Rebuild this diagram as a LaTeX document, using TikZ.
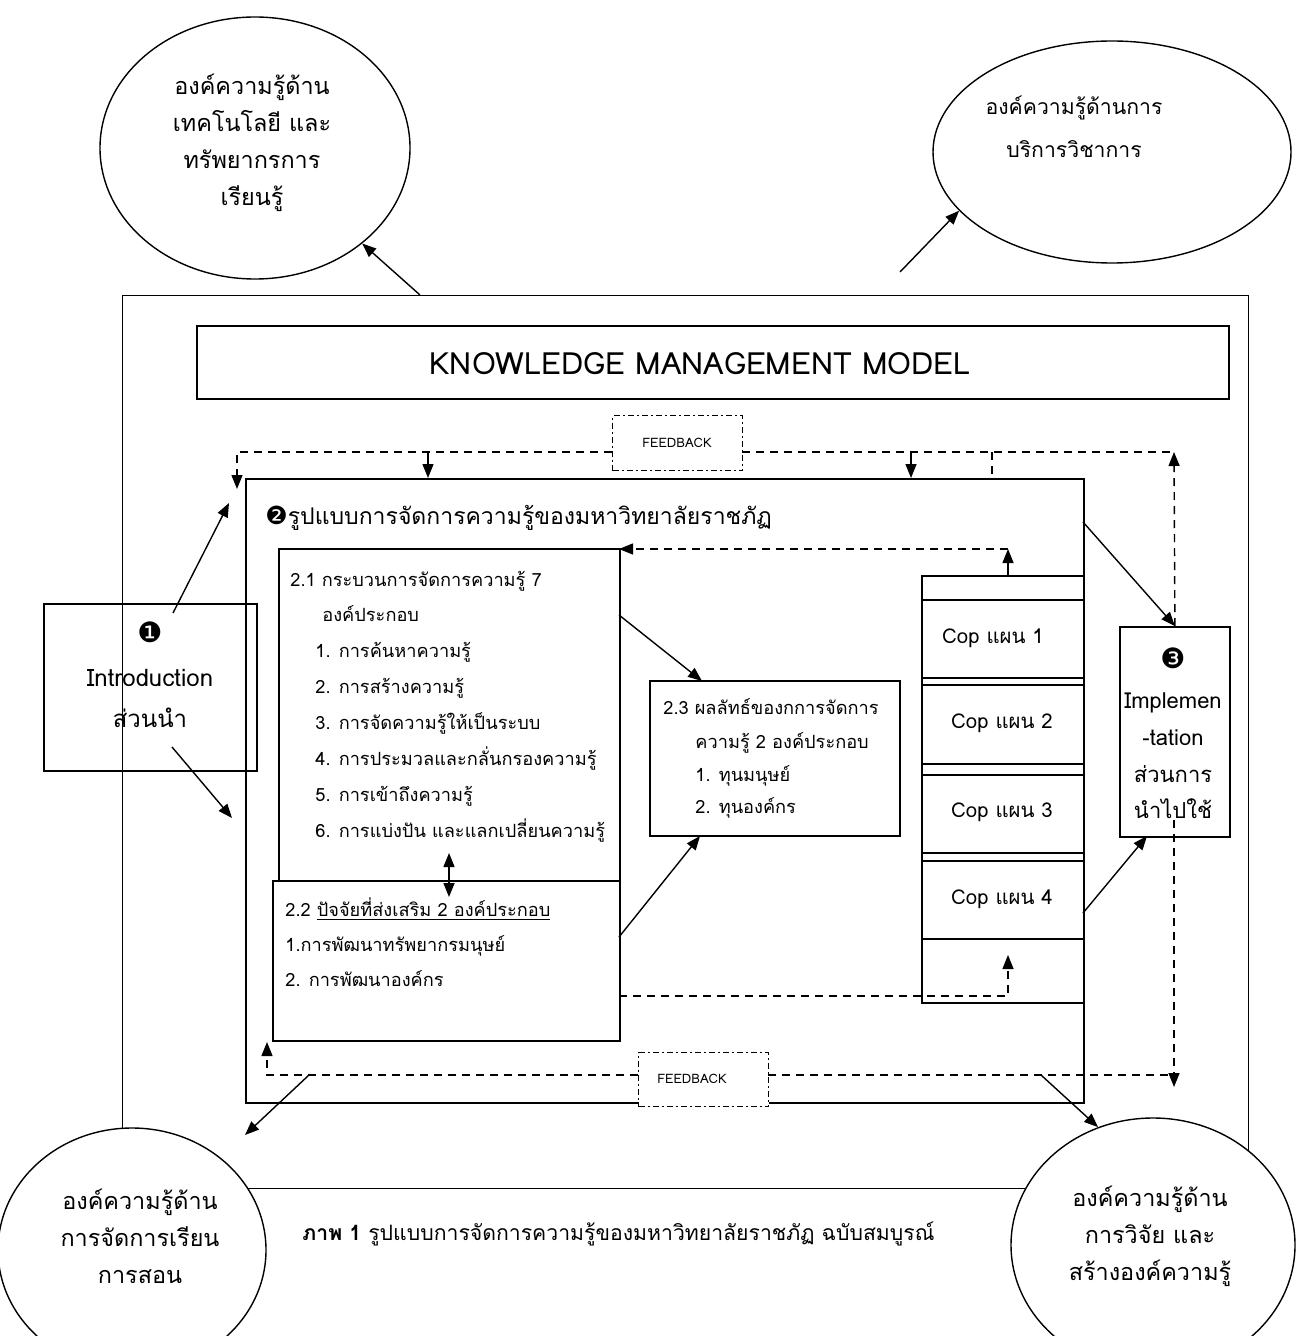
\documentclass[tikz,border=0pt]{standalone}
\usepackage{fontspec}
\setmainfont[Script=Thai]{Loma}
\newfontfamily\dingfont{DejaVu Sans}
\usetikzlibrary{arrows.meta,shapes.geometric,calc}
\newcommand{\fsz}[2]{\fontsize{#1}{#2}\selectfont}
\begin{document}
\begin{tikzpicture}[x=0.5pt,y=-0.5pt,
  bx/.style={draw,line width=0.9pt,rectangle,inner sep=0pt,anchor=north west},
  ell/.style={draw,line width=0.7pt,ellipse,inner sep=0pt,fill=white},
  fb/.style={draw,line width=0.6pt,rectangle,inner sep=0pt,anchor=north west,fill=white,
     dash pattern=on 3pt off 1.5pt on 1pt off 1.5pt},
  arr/.style={line width=0.7pt,-{Triangle[length=7pt,width=5.5pt]}},
  darr/.style={line width=0.7pt,{Triangle[length=7pt,width=5.5pt]}-{Triangle[length=7pt,width=5.5pt]}},
  dsh/.style={line width=0.7pt,dash pattern=on 4pt off 3pt},
  txt/.style={inner sep=0pt,anchor=base west,font=\fsz{9.1}{12}},
  big/.style={inner sep=0pt,align=center,font=\fsz{11.7}{18.5}},
  coptxt/.style={inner sep=0pt,font=\fsz{10.2}{12}},
]
\useasboundingbox (0,0) rectangle (1295,1336);
\fill[white] (0,0) rectangle (1295,1336);

% outer frame
\node[bx,line width=0.6pt,minimum width=563pt,minimum height=446.5pt] (outer) at (122,295) {};

% ellipses
\node[ell,minimum width=155pt,minimum height=131pt] (e1) at (255,148) {};
\node[big] (e1t) at (252,143) {องค์ความรู้ด้าน\\เทคโนโลยี และ\\ทรัพยากรการ\\เรียนรู้};
\node[ell,minimum width=179pt,minimum height=111pt] (e2) at (1112,152) {};
\node[big,font=\fsz{10.6}{21.5}] (e2t) at (1074,127) {องค์ความรู้ด้านการ\\บริการวิชาการ};
\node[ell,minimum width=134pt,minimum height=122pt] (e3) at (132,1250) {};
\node[big] (e3t) at (140,1236) {องค์ความรู้ด้าน\\การจัดการเรียน\\การสอน};
\node[ell,minimum width=142pt,minimum height=127pt] (e4) at (1153,1245) {};
\node[big] (e4t) at (1150,1236) {องค์ความรู้ด้าน\\การวิจัย และ\\สร้างองค์ความรู้};

% title box
\node[bx,minimum width=516pt,minimum height=36.5pt] (kmm) at (196,325) {};
\node[inner sep=0pt,font=\fsz{15.3}{20}] (kmmt) at (700,364) {KNOWLEDGE MANAGEMENT MODEL};

% main box
\node[bx,minimum width=419pt,minimum height=312pt] (main) at (245,478) {};
\node[inner sep=0pt,anchor=base west,font=\fsz{11.5}{15}] (title) at (265,524) {{\dingfont\fsz{12.5}{15}❷}รูปแบบการจัดการความรู้ของมหาวิทยาลัยราชภัฏ};

% feedback boxes
\node[fb,minimum width=65pt,minimum height=27.5pt] (fbtop) at (612,415) {};
\node[inner sep=0pt,font=\fsz{6.5}{8}] (fbtopt) at (677,443) {FEEDBACK};

% box 2.1
\node[bx,minimum width=170.5pt,minimum height=166pt] (b21) at (278,548) {};
\node[txt] (l1) at (290,586) {2.1 กระบวนการจัดการความรู้ 7};
\node[txt] (l2) at (322,621) {องค์ประกอบ};
\node[txt] (l3) at (315,657) {1. การค้นหาความรู้};
\node[txt] (l4) at (315,693) {2. การสร้างความรู้};
\node[txt] (l5) at (315,729) {3. การจัดความรู้ให้เป็นระบบ};
\node[txt] (l6) at (315,765) {4. การประมวลและกลั่นกรองความรู้};
\node[txt] (l7) at (315,801) {5. การเข้าถึงความรู้};
\node[txt] (l8) at (315,837) {6. การแบ่งปัน และแลกเปลี่ยนความรู้};

% box 2.2
\node[bx,minimum width=173.5pt,minimum height=80pt] (b22) at (272,880) {};
\node[txt] (m1) at (285,916) {2.2 \underline{ปัจจัยที่ส่งเสริม 2 องค์ประกอบ}};
\node[txt] (m2) at (285,951) {1.การพัฒนาทรัพยากรมนุษย์};
\node[txt] (m3) at (285,986) {2. การพัฒนาองค์กร};

% box 2.3
\node[bx,minimum width=125pt,minimum height=77.5pt] (b23) at (649,680) {};
\node[txt] (n1) at (663,714) {2.3 ผลลัทธ์ของกการจัดการ};
\node[txt] (n2) at (695,748) {ความรู้ 2 องค์ประกอบ};
\node[txt] (n3) at (695,781) {1. ทุนมนุษย์};
\node[txt] (n4) at (695,813) {2. ทุนองค์กร};

% cop stack
\node[bx,minimum width=81pt,minimum height=213.5pt] (stack) at (921,575) {};
\node[bx,minimum width=81pt,minimum height=39pt] (cop1) at (921,599) {};
\node[bx,minimum width=81pt,minimum height=39.5pt] (cop2) at (921,684) {};
\node[bx,minimum width=81pt,minimum height=39pt] (cop3) at (921,774) {};
\node[bx,minimum width=81pt,minimum height=39pt] (cop4) at (921,860) {};
\node[coptxt] (c1t) at (993,638) {Cop แผน 1};
\node[coptxt] (c2t) at (1002,723) {Cop แผน 2};
\node[coptxt] (c3t) at (1002,812) {Cop แผน 3};
\node[coptxt] (c4t) at (1002,899) {Cop แผน 4};

% intro box
\node[bx,minimum width=106.5pt,minimum height=83.5pt] (intro) at (43,603) {};
\node[inner sep=0pt,font=\dingfont\fsz{14}{15}] (introa) at (150,632) {❶};
\node[inner sep=0pt,align=center,font=\fsz{12}{20.5}] (introt) at (150,698) {Introduction\\ส่วนนำ};

% implementation box
\node[bx,minimum width=55pt,minimum height=105pt] (impl) at (1119,626) {};
\node[inner sep=0pt,font=\dingfont\fsz{14}{15}] (impla) at (1173,658) {❸};
\node[inner sep=0pt,align=center,font=\fsz{11}{18.3}] (implt) at (1173,756) {Implemen\\-tation\\ส่วนการ\\นำไปใช้};

% bottom feedback
\node[fb,minimum width=65pt,minimum height=27pt] (fbbot) at (638,1052) {};
\node[inner sep=0pt,font=\fsz{6.5}{8}] (fbbott) at (692,1079) {FEEDBACK};

% caption
\node[inner sep=0pt,anchor=base west,font=\fsz{10.6}{12}] (cap) at (302,1240) {\textbf{ภาพ 1} รูปแบบการจัดการความรู้ของมหาวิทยาลัยราชภัฏ ฉบับสมบูรณ์};

% ---------- connectors ----------
\coordinate (t1) at (420,295);
\draw[arr] (t1) -- (e1);
\coordinate (t2) at (900,272);
\draw[arr] (t2) -- (e2.201);

\coordinate (ia) at (173,613);
\coordinate (ib) at (229,503);
\draw[arr] (ia) -- (ib);
\coordinate (ic) at (172,747);
\coordinate (id) at (232,818);
\draw[arr] (ic) -- (id);

\coordinate (ma) at (1083,522);
\draw[arr] (ma) -- (impl.north);
\coordinate (ca) at (1083,913);
\coordinate (cb) at (1147,836);
\draw[arr] (ca) -- (cb);

\coordinate (pa) at (619,615);
\coordinate (pb) at (702,681);
\draw[arr] (pa) -- (pb);
\coordinate (qa) at (619,937);
\coordinate (qb) at (700,836);
\draw[arr] (qa) -- (qb);

\coordinate (da) at (449,853);
\coordinate (db) at (449,897);
\draw[darr] (da) -- (db);

\coordinate (sa) at (1008,575);
\coordinate (sb) at (1008,549);
\draw[arr] (sa) -- (sb);
\coordinate (sc) at (619,549);
\draw[dsh,-{Triangle[length=7pt,width=5.5pt]}] (sb) -- (sc);

\coordinate (ra) at (619,996);
\coordinate (rb) at (1008,996);
\coordinate (rc) at (1008,955);
\draw[dsh,-{Triangle[length=7pt,width=5.5pt]}] (ra) -- (rb) -- (rc);

% top feedback loop
\coordinate (fa) at (612,452);
\coordinate (fb1) at (237,452);
\coordinate (fc) at (237,489);
\draw[dsh,-{Triangle[length=7pt,width=5.5pt]}] (fa) -- (fb1) -- (fc);
\coordinate (fd) at (742,452);
\coordinate (fe) at (1174,452);
\draw[dsh] (fd) -- (fe);
\draw[dsh,-{Triangle[length=7pt,width=5.5pt]}] (impl.north) -- (fe);
\coordinate (ga) at (428,452);
\coordinate (gb) at (428,478);
\draw[arr] (ga) -- (gb);
\coordinate (gc) at (911,452);
\coordinate (gd) at (911,478);
\draw[arr] (gc) -- (gd);
\coordinate (gf) at (992,452);
\coordinate (gg) at (992,478);
\draw[dsh] (gf) -- (gg);

% bottom feedback loop
\coordinate (ha) at (638,1075);
\coordinate (hb) at (267,1075);
\coordinate (hc) at (267,1042);
\draw[dsh,-{Triangle[length=7pt,width=5.5pt]}] (ha) -- (hb) -- (hc);
\coordinate (hd) at (768,1075);
\coordinate (he) at (1174,1075);
\draw[dsh] (hd) -- (he);
\coordinate (hf) at (1174,820);
\coordinate (hg) at (1174,1087);
\draw[dsh,-{Triangle[length=7pt,width=5.5pt]}] (hf) -- (hg);
\coordinate (ka) at (309,1075);
\coordinate (kc) at (245,1135);
\draw[arr] (ka) -- (kc);
\coordinate (kb) at (1041,1075);
\draw[arr] (kb) -- (e4.115);
\end{tikzpicture}
\end{document}
